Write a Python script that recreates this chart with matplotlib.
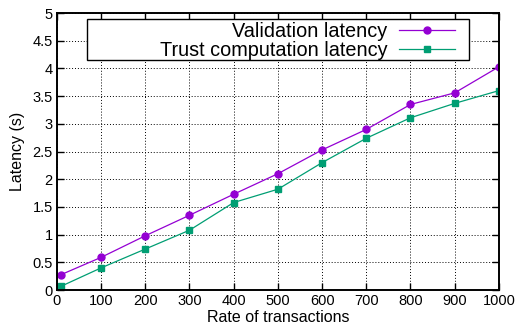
import matplotlib
matplotlib.use("Agg")
import matplotlib.pyplot as plt
from matplotlib.patches import Rectangle

plt.rcParams["font.family"] = ["Liberation Sans", "DejaVu Sans"]

# data
rates = [10, 100, 200, 300, 400, 500, 600, 700, 800, 900, 1000]
validation = [0.28, 0.59, 0.98, 1.35, 1.73, 2.10, 2.53, 2.90, 3.35, 3.56, 4.03]
trust = [0.07, 0.40, 0.74, 1.08, 1.58, 1.82, 2.30, 2.74, 3.11, 3.37, 3.60]

x_ticks = [0, 100, 200, 300, 400, 500, 600, 700, 800, 900, 1000]
y_ticks = [0, 0.5, 1, 1.5, 2, 2.5, 3, 3.5, 4, 4.5, 5]
y_ticklabels = ["0", "0.5", "1", "1.5", "2", "2.5", "3", "3.5", "4", "4.5", "5"]

fig = plt.figure(figsize=(5.17, 3.27), dpi=100)
ax = fig.add_axes([0.110, 0.113, 0.855, 0.847])

ax.plot(rates, validation, color="#9400D3", linewidth=0.9, marker="o",
        markersize=5, label="Validation latency")
ax.plot(rates, trust, color="#009E73", linewidth=0.9, marker="s",
        markersize=5, label="Trust computation latency")

ax.set_xlim(0, 1000)
ax.set_ylim(0, 5)
ax.set_xticks(x_ticks)
ax.set_yticks(y_ticks)
ax.set_yticklabels(y_ticklabels)
ax.tick_params(direction="in", top=True, right=True, length=5, width=1,
               labelsize=10.5, pad=3)
for s in ax.spines.values():
    s.set_linewidth(1.4)
ax.grid(True, color="black", linestyle=(0, (1, 2)), linewidth=0.7)
ax.set_axisbelow(True)

ax.set_xlabel("Rate of transactions", fontsize=11.5, labelpad=1)
ax.set_ylabel("Latency (s)", fontsize=11.5, labelpad=5)

# legend box drawn by hand to match the wide gnuplot key
box = Rectangle((87 / 517, 1 - 60 / 327), (469 - 87) / 517, 41 / 327,
                transform=fig.transFigure, facecolor="white",
                edgecolor="black", linewidth=1.0, zorder=5, clip_on=False)
ax.add_patch(box)
leg = ax.legend(loc="upper right", bbox_to_anchor=(465 / 517, 1 - 12 / 327),
                bbox_transform=fig.transFigure, frameon=False,
                markerfirst=False, fontsize=14.3, handlelength=2.8,
                handletextpad=0.6, labelspacing=0.0, borderpad=0.0,
                alignment="right")
leg.set_zorder(6)

fig.savefig("out.png", dpi=100)
